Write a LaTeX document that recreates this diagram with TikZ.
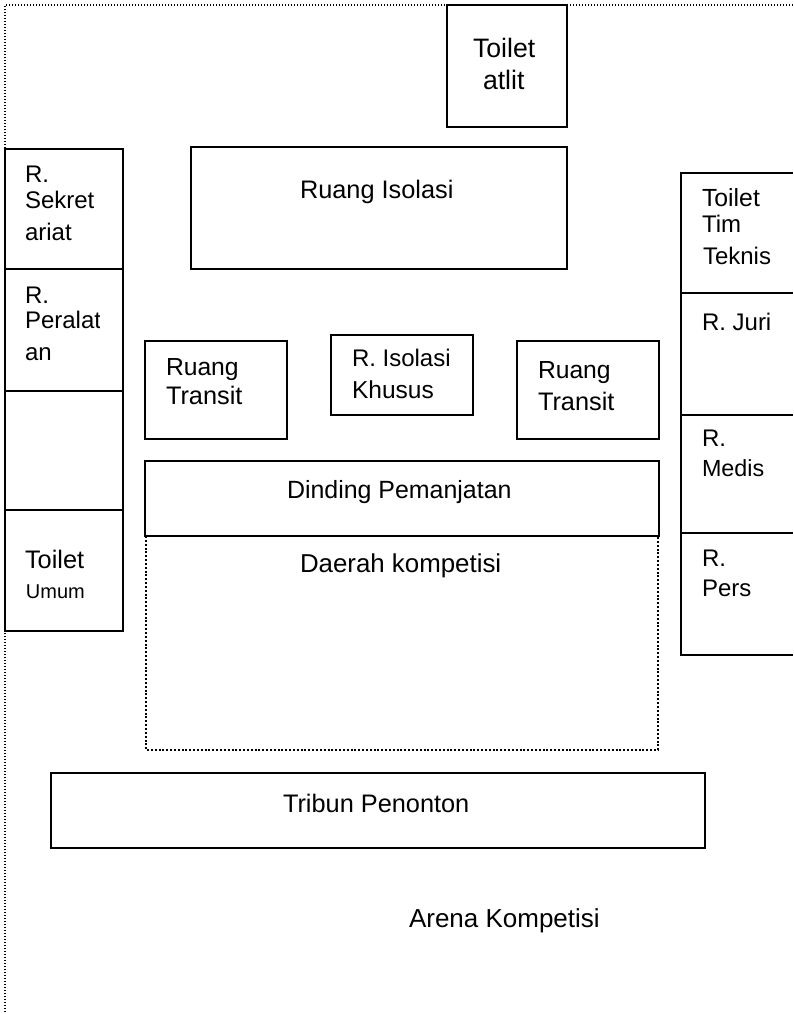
\documentclass[tikz,border=0pt]{standalone}
\usepackage{fontspec}
\setmainfont{Liberation Sans}
\tikzset{
  room/.style={draw=black,line width=1.5pt},
  outerline/.style={draw=black,line width=1pt,dash pattern=on 1.1pt off 1.15pt},
  zoneline/.style={draw=black,line width=1.7pt,dash pattern=on 1.5pt off 1.38pt},
  lab/.style={anchor=base west,inner sep=0pt,outer sep=0pt,font=\fontsize{#1}{22}\selectfont,text=black},
  lab/.default=18,
}
\begin{document}
\begin{tikzpicture}[x=0.75pt,y=-0.75pt]
\useasboundingbox (0,0) rectangle (793,1014);
\draw[outerline] (793,5) -- (5,5) -- (5,1014);
\draw[zoneline] (146,536) -- (146,750) -- (658,750) -- (658,536);
\foreach \a/\b/\c/\d in {447/5/567/127,191/147/567/269,5/149/123/269,5/269/123/391,5/391/123/510,5/510/123/631,145/341/287/439,331/335/473/415,517/341/659/439,145/461/659/536,51/773/705/848}
  \filldraw[room,fill=white] (\a,\b) rectangle (\c,\d);
\draw[room] (793,173) -- (681,173) -- (681,655) -- (793,655);
\draw[room] (681,293) -- (793,293) (681,415) -- (793,415) (681,533) -- (793,533);
\node[lab=20] (t1) at (473,57.5) {Toilet};
\node[lab=20] (t2) at (483,89) {atlit};
\node[lab=19] (ri) at (300,198) {Ruang Isolasi};
\node[lab] (s1) at (25,182) {R.};
\node[lab] (s2) at (25,208) {Sekret};
\node[lab] (s3) at (25,240) {ariat};
\node[lab] (p1) at (25,303) {R.};
\begin{scope}
\clip (20,305) rectangle (99,340);
\node[lab] (p2) at (25,328) {Peralatan};
\end{scope}
\node[lab] (p3) at (25,360) {an};
\node[lab=19] (u1) at (25,568) {Toilet};
\node[lab=15] (u2) at (26,598) {Umum};
\node[lab=18.5] (tr1) at (166,375) {Ruang};
\node[lab=19] (tr2) at (166,404) {Transit};
\node[lab] (k1) at (352,366) {R. Isolasi};
\node[lab=18.4] (k2) at (352,398) {Khusus};
\node[lab=18.5] (tq1) at (538,378) {Ruang};
\node[lab=19] (tq2) at (538,410) {Transit};
\node[lab=18.7] (dp) at (287,498) {Dinding Pemanjatan};
\node[lab=19.4] (dk) at (300,572) {Daerah kompetisi};
\node[lab=19] (tp) at (283,812) {Tribun Penonton};
\node[lab=19.5] (ak) at (409,927) {Arena Kompetisi};
\node[lab=18.6] (j1) at (702,206) {Toilet};
\node[lab] (j2) at (702,232) {Tim};
\node[lab] (j3) at (703,264) {Teknis};
\node[lab] (j4) at (702,330) {R. Juri};
\node[lab] (m1) at (702,446) {R.};
\node[lab=17.5] (m2) at (702,476) {Medis};
\node[lab] (e1) at (702,566) {R.};
\node[lab] (e2) at (702,596) {Pers};
\end{tikzpicture}
\end{document}
